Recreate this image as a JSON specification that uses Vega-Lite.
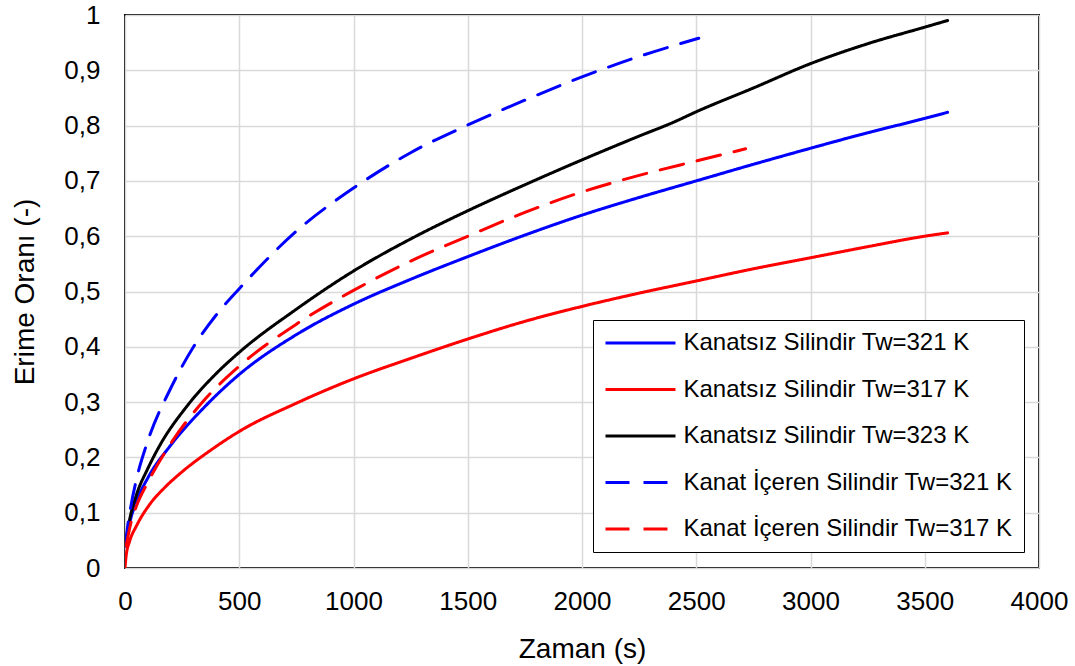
{
  "$schema": "https://vega.github.io/schema/vega-lite/v6.json",
  "width": 914,
  "height": 553,
  "autosize": "none",
  "padding": {"left": 125, "top": 15, "right": 36, "bottom": 98},
  "background": "white",
  "config": {
    "view": {"stroke": "black", "strokeWidth": 2},
    "font": "Liberation Sans",
    "axis": {
      "domain": false,
      "ticks": false,
      "gridColor": "#d9d9d9",
      "gridWidth": 1.5,
      "labelFont": "Liberation Sans",
      "labelFontSize": 26,
      "labelColor": "black",
      "titleFont": "Liberation Sans",
      "titleFontSize": 28,
      "titleFontWeight": "normal",
      "titleColor": "black"
    },
    "legend": {
      "labelFont": "Liberation Sans",
      "labelFontSize": 24,
      "labelColor": "black",
      "labelLimit": 500,
      "labelOffset": 31,
      "symbolType": "M-7,0H7",
      "symbolSize": 100,
      "symbolOffset": 24.5,
      "symbolStrokeWidth": 3,
      "rowPadding": 22.5,
      "padding": 11,
      "strokeColor": "black",
      "fillColor": "white"
    }
  },
  "data": {
    "values": [
      {"seri": "Kanatsız Silindir Tw=321 K", "t": 3, "oran": 0.04},
      {"seri": "Kanatsız Silindir Tw=321 K", "t": 20, "oran": 0.08},
      {"seri": "Kanatsız Silindir Tw=321 K", "t": 50, "oran": 0.12},
      {"seri": "Kanatsız Silindir Tw=321 K", "t": 100, "oran": 0.163},
      {"seri": "Kanatsız Silindir Tw=321 K", "t": 200, "oran": 0.222},
      {"seri": "Kanatsız Silindir Tw=321 K", "t": 350, "oran": 0.292},
      {"seri": "Kanatsız Silindir Tw=321 K", "t": 500, "oran": 0.35},
      {"seri": "Kanatsız Silindir Tw=321 K", "t": 750, "oran": 0.422},
      {"seri": "Kanatsız Silindir Tw=321 K", "t": 1000, "oran": 0.477},
      {"seri": "Kanatsız Silindir Tw=321 K", "t": 1250, "oran": 0.522},
      {"seri": "Kanatsız Silindir Tw=321 K", "t": 1500, "oran": 0.563},
      {"seri": "Kanatsız Silindir Tw=321 K", "t": 1750, "oran": 0.602},
      {"seri": "Kanatsız Silindir Tw=321 K", "t": 2000, "oran": 0.638},
      {"seri": "Kanatsız Silindir Tw=321 K", "t": 2250, "oran": 0.67},
      {"seri": "Kanatsız Silindir Tw=321 K", "t": 2500, "oran": 0.7},
      {"seri": "Kanatsız Silindir Tw=321 K", "t": 2750, "oran": 0.73},
      {"seri": "Kanatsız Silindir Tw=321 K", "t": 3000, "oran": 0.759},
      {"seri": "Kanatsız Silindir Tw=321 K", "t": 3250, "oran": 0.787},
      {"seri": "Kanatsız Silindir Tw=321 K", "t": 3500, "oran": 0.813},
      {"seri": "Kanatsız Silindir Tw=321 K", "t": 3600, "oran": 0.824},

      {"seri": "Kanatsız Silindir Tw=317 K", "t": 0, "oran": 0.0},
      {"seri": "Kanatsız Silindir Tw=317 K", "t": 5, "oran": 0.022},
      {"seri": "Kanatsız Silindir Tw=317 K", "t": 20, "oran": 0.048},
      {"seri": "Kanatsız Silindir Tw=317 K", "t": 50, "oran": 0.076},
      {"seri": "Kanatsız Silindir Tw=317 K", "t": 110, "oran": 0.116},
      {"seri": "Kanatsız Silindir Tw=317 K", "t": 175, "oran": 0.146},
      {"seri": "Kanatsız Silindir Tw=317 K", "t": 250, "oran": 0.174},
      {"seri": "Kanatsız Silindir Tw=317 K", "t": 375, "oran": 0.213},
      {"seri": "Kanatsız Silindir Tw=317 K", "t": 500, "oran": 0.247},
      {"seri": "Kanatsız Silindir Tw=317 K", "t": 750, "oran": 0.298},
      {"seri": "Kanatsız Silindir Tw=317 K", "t": 1000, "oran": 0.342},
      {"seri": "Kanatsız Silindir Tw=317 K", "t": 1250, "oran": 0.379},
      {"seri": "Kanatsız Silindir Tw=317 K", "t": 1500, "oran": 0.414},
      {"seri": "Kanatsız Silindir Tw=317 K", "t": 1750, "oran": 0.446},
      {"seri": "Kanatsız Silindir Tw=317 K", "t": 2000, "oran": 0.473},
      {"seri": "Kanatsız Silindir Tw=317 K", "t": 2250, "oran": 0.497},
      {"seri": "Kanatsız Silindir Tw=317 K", "t": 2500, "oran": 0.519},
      {"seri": "Kanatsız Silindir Tw=317 K", "t": 2750, "oran": 0.541},
      {"seri": "Kanatsız Silindir Tw=317 K", "t": 3000, "oran": 0.561},
      {"seri": "Kanatsız Silindir Tw=317 K", "t": 3250, "oran": 0.581},
      {"seri": "Kanatsız Silindir Tw=317 K", "t": 3500, "oran": 0.6},
      {"seri": "Kanatsız Silindir Tw=317 K", "t": 3600, "oran": 0.606},

      {"seri": "Kanatsız Silindir Tw=323 K", "t": 5, "oran": 0.05},
      {"seri": "Kanatsız Silindir Tw=323 K", "t": 20, "oran": 0.087},
      {"seri": "Kanatsız Silindir Tw=323 K", "t": 50, "oran": 0.132},
      {"seri": "Kanatsız Silindir Tw=323 K", "t": 100, "oran": 0.18},
      {"seri": "Kanatsız Silindir Tw=323 K", "t": 150, "oran": 0.22},
      {"seri": "Kanatsız Silindir Tw=323 K", "t": 270, "oran": 0.292},
      {"seri": "Kanatsız Silindir Tw=323 K", "t": 400, "oran": 0.352},
      {"seri": "Kanatsız Silindir Tw=323 K", "t": 500, "oran": 0.39},
      {"seri": "Kanatsız Silindir Tw=323 K", "t": 750, "oran": 0.468},
      {"seri": "Kanatsız Silindir Tw=323 K", "t": 1000, "oran": 0.537},
      {"seri": "Kanatsız Silindir Tw=323 K", "t": 1250, "oran": 0.595},
      {"seri": "Kanatsız Silindir Tw=323 K", "t": 1500, "oran": 0.646},
      {"seri": "Kanatsız Silindir Tw=323 K", "t": 1750, "oran": 0.693},
      {"seri": "Kanatsız Silindir Tw=323 K", "t": 2000, "oran": 0.738},
      {"seri": "Kanatsız Silindir Tw=323 K", "t": 2250, "oran": 0.781},
      {"seri": "Kanatsız Silindir Tw=323 K", "t": 2400, "oran": 0.806},
      {"seri": "Kanatsız Silindir Tw=323 K", "t": 2500, "oran": 0.825},
      {"seri": "Kanatsız Silindir Tw=323 K", "t": 2750, "oran": 0.868},
      {"seri": "Kanatsız Silindir Tw=323 K", "t": 3000, "oran": 0.912},
      {"seri": "Kanatsız Silindir Tw=323 K", "t": 3250, "oran": 0.948},
      {"seri": "Kanatsız Silindir Tw=323 K", "t": 3500, "oran": 0.978},
      {"seri": "Kanatsız Silindir Tw=323 K", "t": 3600, "oran": 0.99},

      {"seri": "Kanat İçeren Silindir Tw=321 K", "t": 2, "oran": 0.04},
      {"seri": "Kanat İçeren Silindir Tw=321 K", "t": 10, "oran": 0.07},
      {"seri": "Kanat İçeren Silindir Tw=321 K", "t": 25, "oran": 0.11},
      {"seri": "Kanat İçeren Silindir Tw=321 K", "t": 50, "oran": 0.16},
      {"seri": "Kanat İçeren Silindir Tw=321 K", "t": 100, "oran": 0.23},
      {"seri": "Kanat İçeren Silindir Tw=321 K", "t": 200, "oran": 0.325},
      {"seri": "Kanat İçeren Silindir Tw=321 K", "t": 300, "oran": 0.4},
      {"seri": "Kanat İçeren Silindir Tw=321 K", "t": 400, "oran": 0.458},
      {"seri": "Kanat İçeren Silindir Tw=321 K", "t": 500, "oran": 0.505},
      {"seri": "Kanat İçeren Silindir Tw=321 K", "t": 750, "oran": 0.609},
      {"seri": "Kanat İçeren Silindir Tw=321 K", "t": 1000, "oran": 0.687},
      {"seri": "Kanat İçeren Silindir Tw=321 K", "t": 1250, "oran": 0.751},
      {"seri": "Kanat İçeren Silindir Tw=321 K", "t": 1500, "oran": 0.801},
      {"seri": "Kanat İçeren Silindir Tw=321 K", "t": 1750, "oran": 0.846},
      {"seri": "Kanat İçeren Silindir Tw=321 K", "t": 2000, "oran": 0.888},
      {"seri": "Kanat İçeren Silindir Tw=321 K", "t": 2250, "oran": 0.925},
      {"seri": "Kanat İçeren Silindir Tw=321 K", "t": 2511, "oran": 0.958},

      {"seri": "Kanat İçeren Silindir Tw=317 K", "t": 5, "oran": 0.04},
      {"seri": "Kanat İçeren Silindir Tw=317 K", "t": 25, "oran": 0.08},
      {"seri": "Kanat İçeren Silindir Tw=317 K", "t": 50, "oran": 0.112},
      {"seri": "Kanat İçeren Silindir Tw=317 K", "t": 100, "oran": 0.155},
      {"seri": "Kanat İçeren Silindir Tw=317 K", "t": 200, "oran": 0.225},
      {"seri": "Kanat İçeren Silindir Tw=317 K", "t": 350, "oran": 0.305},
      {"seri": "Kanat İçeren Silindir Tw=317 K", "t": 500, "oran": 0.365},
      {"seri": "Kanat İçeren Silindir Tw=317 K", "t": 750, "oran": 0.441},
      {"seri": "Kanat İçeren Silindir Tw=317 K", "t": 1000, "oran": 0.502},
      {"seri": "Kanat İçeren Silindir Tw=317 K", "t": 1250, "oran": 0.555},
      {"seri": "Kanat İçeren Silindir Tw=317 K", "t": 1500, "oran": 0.6},
      {"seri": "Kanat İçeren Silindir Tw=317 K", "t": 1750, "oran": 0.643},
      {"seri": "Kanat İçeren Silindir Tw=317 K", "t": 2000, "oran": 0.68},
      {"seri": "Kanat İçeren Silindir Tw=317 K", "t": 2250, "oran": 0.71},
      {"seri": "Kanat İçeren Silindir Tw=317 K", "t": 2500, "oran": 0.736},
      {"seri": "Kanat İçeren Silindir Tw=317 K", "t": 2716, "oran": 0.758}
    ]
  },
  "mark": {"type": "line", "strokeWidth": 3, "interpolate": "monotone", "strokeCap": "round", "clip": true},
  "encoding": {
    "x": {
      "field": "t", "type": "quantitative",
      "scale": {"domain": [0, 4000], "nice": false},
      "axis": {"values": [0, 500, 1000, 1500, 2000, 2500, 3000, 3500, 4000], "format": "d", "title": "Zaman (s)", "labelPadding": 20, "titlePadding": 21, "labelFlush": false, "labelOverlap": false}
    },
    "y": {
      "field": "oran", "type": "quantitative",
      "scale": {"domain": [0, 1], "nice": false},
      "axis": {"values": [0, 0.1, 0.2, 0.3, 0.4, 0.5, 0.6, 0.7, 0.8, 0.9, 1], "title": "Erime Oranı (-)", "labelPadding": 25, "titlePadding": 24, "labelFlush": false, "labelOverlap": false, "labelExpr": "replace(format(datum.value, '.1~f'), '.', ',')"}
    },
    "color": {
      "field": "seri", "type": "nominal",
      "scale": {
        "domain": ["Kanatsız Silindir Tw=321 K", "Kanatsız Silindir Tw=317 K", "Kanatsız Silindir Tw=323 K", "Kanat İçeren Silindir Tw=321 K", "Kanat İçeren Silindir Tw=317 K"],
        "range": ["#0000ff", "#ff0000", "#000000", "#0000ff", "#ff0000"]
      },
      "legend": {"title": null, "orient": "none", "legendX": 468, "legendY": 305}
    },
    "strokeDash": {
      "field": "seri", "type": "nominal",
      "scale": {
        "domain": ["Kanatsız Silindir Tw=321 K", "Kanatsız Silindir Tw=317 K", "Kanatsız Silindir Tw=323 K", "Kanat İçeren Silindir Tw=321 K", "Kanat İçeren Silindir Tw=317 K"],
        "range": [[1, 0], [1, 0], [1, 0], [24, 14], [24, 14]]
      },
      "legend": {"title": null, "orient": "none", "legendX": 468, "legendY": 305}
    }
  }
}
